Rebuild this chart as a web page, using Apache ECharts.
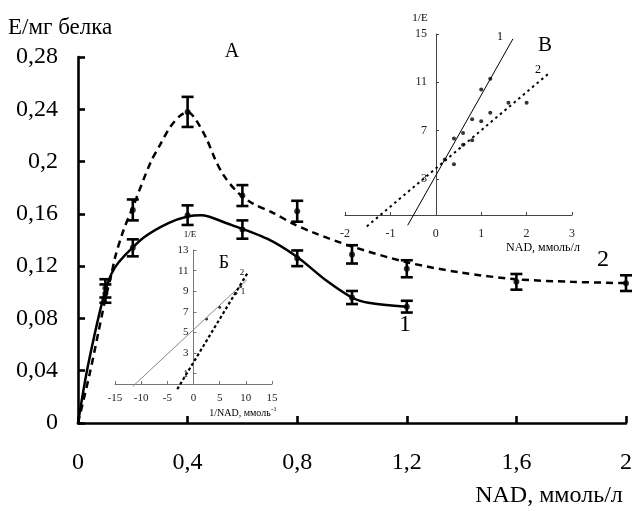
<!DOCTYPE html>
<html>
<head>
<meta charset="utf-8">
<script src="https://cdn.jsdelivr.net/npm/echarts@6/dist/echarts.min.js"></script>
<style>
  html, body { margin: 0; padding: 0; background: #fff; }
  #chart { width: 635px; height: 511px; }
</style>
</head>
<body>
<div id="chart"></div>
<script>
    // main plot, measured points (NAD, mmol/l -> E/mg protein)
    var conc1 = [0.1, 0.2, 0.4, 0.6, 0.8, 1.0, 1.2];
    var act1 = [0.103, 0.134, 0.159, 0.148, 0.126, 0.096, 0.089];
    var err1 = [0.007, 0.0065, 0.0075, 0.007, 0.006, 0.005, 0.0045];

    var conc2 = [0.1, 0.2, 0.4, 0.6, 0.8, 1.0, 1.2, 1.6, 2.0];
    var act2 = [0.099, 0.163, 0.238, 0.174, 0.162, 0.129, 0.118, 0.108, 0.107];
    var err2 = [0.007, 0.008, 0.0115, 0.008, 0.008, 0.007, 0.0065, 0.006, 0.006];

    // fitted curves
    var curve1 = [[0, 0], [0.031, 0.038], [0.062, 0.069], [0.089, 0.093], [0.112, 0.109],
        [0.135, 0.119], [0.17, 0.128], [0.24, 0.142], [0.33, 0.153], [0.4, 0.158],
        [0.45, 0.159], [0.54, 0.153], [0.69, 0.141], [0.8, 0.127], [0.9, 0.11],
        [1.0, 0.096], [1.06, 0.092], [1.2, 0.089]];
    var curve2 = [[0, 0], [0.043, 0.038], [0.075, 0.07], [0.1, 0.095], [0.12, 0.112],
        [0.137, 0.128], [0.167, 0.148], [0.2, 0.165], [0.264, 0.199], [0.3, 0.213],
        [0.335, 0.226], [0.372, 0.235], [0.4, 0.238], [0.43, 0.232], [0.47, 0.217], [0.5, 0.202],
        [0.53, 0.19], [0.58, 0.177], [0.637, 0.168], [0.71, 0.161], [0.78, 0.153], [0.855, 0.146],
        [1.0, 0.135], [1.2, 0.123], [1.4, 0.115], [1.6, 0.11], [1.8, 0.108], [2.0, 0.107]];

    // inset B (top right): 1/E vs NAD
    var insetBLine1 = [[-0.62, -0.86], [1.70, 14.6]];
    var insetBLine2 = [[-1.52, -0.95], [2.51, 11.8]];
    var insetBPoints = [[0.4, 6.34], [0.6, 6.8], [0.8, 7.93], [1.0, 10.4], [1.2, 11.3], [0.4, 4.2],
        [0.6, 5.82], [0.8, 6.2], [1.0, 7.77], [1.2, 8.48], [1.6, 9.3], [2.0, 9.3], [0.2, 4.6]];
    var insetBTicksY = [3, 7, 11, 15];

    // inset Б (lower): 1/E vs 1/NAD
    var insetCLine1 = [[-11.6, -0.23], [10.2, 10.1]];
    var insetCLine2 = [[-3.1, -0.5], [10.48, 10.9]];
    var insetCPoints = [[2.5, 6.3], [5.0, 7.45], [8.1, 8.8], [9.0, 9.45]];
    var insetCTicksY = [1, 3, 5, 7, 9, 11, 13];

    var serif = '"Liberation Serif", "DejaVu Serif", serif';

    function comma(v) {
        return String(+v.toFixed(2)).replace('.', ',');
    }
    function zip(xs, ys) {
        return xs.map(function (x, i) { return [x, ys[i]]; });
    }
    function errData(xs, ys, es) {
        return xs.map(function (x, i) { return [x, ys[i] - es[i], ys[i] + es[i]]; });
    }
    function errRender(params, api) {
        var lo = api.coord([api.value(0), api.value(1)]);
        var hi = api.coord([api.value(0), api.value(2)]);
        var st = { stroke: '#000', lineWidth: 2.6 };
        var w = 6;
        return {
            type: 'group',
            children: [
                { type: 'line', shape: { x1: lo[0], y1: lo[1], x2: hi[0], y2: hi[1] }, style: st },
                { type: 'line', shape: { x1: lo[0] - w, y1: lo[1], x2: lo[0] + w, y2: lo[1] }, style: st },
                { type: 'line', shape: { x1: hi[0] - w, y1: hi[1], x2: hi[0] + w, y2: hi[1] }, style: st }
            ]
        };
    }
    function txt(x, y, s, size, align, color) {
        return {
            type: 'text', x: x, y: y, z: 100,
            style: {
                text: s, font: size + 'px ' + serif, fill: color || '#000',
                textAlign: align || 'center', textVerticalAlign: 'middle'
            }
        };
    }

    var chart = echarts.init(document.getElementById('chart'), null, { renderer: 'canvas' });

    var option = {
        animation: false,
        backgroundColor: '#fff',
        grid: [
            { left: 78, right: 4, top: 57, bottom: 88, containLabel: false },
            { left: 345, right: 63, top: 34, bottom: 296, containLabel: false },
            { left: 115, right: 363, top: 250, bottom: 127, containLabel: false }
        ],
        xAxis: [
            {
                type: 'value', gridIndex: 0, min: 0, max: 2, interval: 0.4,
                axisLine: { show: true, onZero: false, lineStyle: { color: '#000', width: 2.6 } },
                axisTick: { show: true, inside: true, length: 7, lineStyle: { color: '#000', width: 2.6 } },
                axisLabel: { margin: 28, fontFamily: serif, fontSize: 24, color: '#000', formatter: comma },
                splitLine: { show: false }
            },
            {
                type: 'value', gridIndex: 1, min: -2, max: 3, interval: 1,
                axisLine: { show: true, onZero: false, lineStyle: { color: '#444', width: 1 } },
                axisTick: { show: true, inside: true, length: 3, lineStyle: { color: '#444', width: 1 } },
                axisLabel: { margin: 13, fontFamily: serif, fontSize: 12, color: '#222' },
                splitLine: { show: false }
            },
            {
                type: 'value', gridIndex: 2, min: -15, max: 15, interval: 5,
                axisLine: { show: true, onZero: false, lineStyle: { color: '#777', width: 1 } },
                axisTick: { show: true, inside: true, length: 3, lineStyle: { color: '#777', width: 1 } },
                axisLabel: { margin: 9, fontFamily: serif, fontSize: 11, color: '#222' },
                splitLine: { show: false }
            }
        ],
        yAxis: [
            {
                type: 'value', gridIndex: 0, min: 0, max: 0.28, interval: 0.04,
                axisLine: { show: true, onZero: false, lineStyle: { color: '#000', width: 2.6 } },
                axisTick: { show: true, inside: true, length: 7, lineStyle: { color: '#000', width: 2.6 } },
                axisLabel: { margin: 20, fontFamily: serif, fontSize: 24, color: '#000', formatter: comma },
                splitLine: { show: false }
            },
            {
                type: 'value', gridIndex: 1, min: 0, max: 15, offset: -91,
                axisLine: { show: true, onZero: false, lineStyle: { color: '#444', width: 1 } },
                axisTick: { show: true, inside: true, length: 3, customValues: insetBTicksY, lineStyle: { color: '#444', width: 1 } },
                axisLabel: { margin: 9, fontFamily: serif, fontSize: 12, color: '#222', customValues: insetBTicksY },
                splitLine: { show: false }
            },
            {
                type: 'value', gridIndex: 2, min: 0, max: 13, offset: -78.5,
                axisLine: { show: true, onZero: false, lineStyle: { color: '#777', width: 1 } },
                axisTick: { show: true, inside: true, length: 3, customValues: insetCTicksY, lineStyle: { color: '#777', width: 1 } },
                axisLabel: { margin: 5, fontFamily: serif, fontSize: 11, color: '#222', customValues: insetCTicksY },
                splitLine: { show: false }
            }
        ],
        series: [
            {
                type: 'line', xAxisIndex: 0, yAxisIndex: 0, data: curve1, showSymbol: false,
                smooth: 0.3, lineStyle: { color: '#000', width: 2.5, type: 'solid' }
            },
            {
                type: 'line', xAxisIndex: 0, yAxisIndex: 0, data: curve2, showSymbol: false,
                smooth: 0.3, lineStyle: { color: '#000', width: 2.5, type: [7, 5] }
            },
            {
                type: 'custom', xAxisIndex: 0, yAxisIndex: 0, data: errData(conc1, act1, err1),
                renderItem: errRender, z: 5
            },
            {
                type: 'custom', xAxisIndex: 0, yAxisIndex: 0, data: errData(conc2, act2, err2),
                renderItem: errRender, z: 5
            },
            {
                type: 'scatter', xAxisIndex: 0, yAxisIndex: 0, data: zip(conc1, act1),
                symbolSize: 6, itemStyle: { color: '#000' }, z: 6
            },
            {
                type: 'scatter', xAxisIndex: 0, yAxisIndex: 0, data: zip(conc2, act2),
                symbolSize: 6, itemStyle: { color: '#000' }, z: 6
            },
            // inset B
            {
                type: 'line', xAxisIndex: 1, yAxisIndex: 1, data: insetBLine1, showSymbol: false, clip: false,
                lineStyle: { color: '#000', width: 1 }
            },
            {
                type: 'line', xAxisIndex: 1, yAxisIndex: 1, data: insetBLine2, showSymbol: false, clip: false,
                lineStyle: { color: '#000', width: 2, type: [2.5, 3.5] }
            },
            {
                type: 'scatter', xAxisIndex: 1, yAxisIndex: 1, data: insetBPoints,
                symbolSize: 4, itemStyle: { color: '#000' }
            },
            // inset Б
            {
                type: 'line', xAxisIndex: 2, yAxisIndex: 2, data: insetCLine1, showSymbol: false, clip: false,
                lineStyle: { color: '#888', width: 1 }
            },
            {
                type: 'line', xAxisIndex: 2, yAxisIndex: 2, data: insetCLine2, showSymbol: false, clip: false,
                lineStyle: { color: '#000', width: 2.2, type: [3, 2.5] }
            },
            {
                type: 'scatter', xAxisIndex: 2, yAxisIndex: 2, data: insetCPoints,
                symbolSize: 3, itemStyle: { color: '#000' }
            }
        ],
        graphic: [
            txt(8, 28, 'E/мг белка', 23, 'left'),
            txt(232, 52, 'A', 20),
            txt(405, 325, '1', 24),
            txt(603, 260, '2', 24),
            txt(549, 496, 'NAD, ммоль/л', 24),
            txt(545, 45, 'В', 21),
            txt(500, 37, '1', 12),
            txt(538, 70, '2', 12),
            txt(420, 18, '1/E', 11),
            txt(543, 248, 'NAD, ммоль/л', 12),
            txt(224, 263, 'Б', 18),
            txt(242, 273, '2', 9),
            txt(243, 292, '1', 9),
            txt(190, 235, '1/E', 9),
            txt(240, 413, '1/NAD, ммоль', 10),
            txt(271, 409, '-1', 7, 'left')
        ]
    };

    chart.setOption(option);
</script>
</body>
</html>
